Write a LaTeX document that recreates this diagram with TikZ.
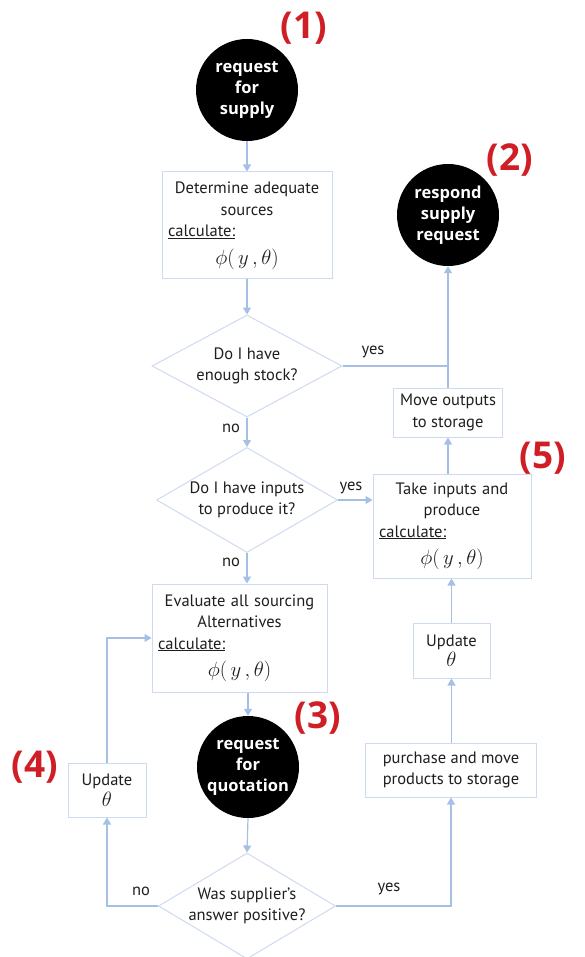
\documentclass[tikz,border=0pt]{standalone}
\usepackage{fontspec}
\setmainfont{PT Sans}
\newfontfamily\headsans{Open Sans}
\usetikzlibrary{arrows.meta,shapes.geometric}
\definecolor{flow}{RGB}{165,192,230}
\definecolor{boxline}{RGB}{205,218,240}
\definecolor{mark}{RGB}{208,30,38}
\definecolor{ink}{RGB}{30,30,30}
\tikzset{
  flowline/.style={draw=flow, line width=1.2pt},
  flowarrow/.style={flowline, -{Triangle[length=7pt,width=8pt]}},
  terminal/.style={circle, fill=black, minimum size=102pt, inner sep=0pt,
    text=white, align=center, font=\headsans\bfseries\fontsize{16.5}{21}\selectfont},
  procbox/.style={draw=boxline, line width=1pt, inner sep=0pt, align=center,
    text=ink, font=\fontsize{16.5}{21.5}\selectfont},
  decision/.style={diamond, draw=boxline, line width=1pt, inner sep=0pt},
  decisiontext/.style={align=center, text=ink, font=\fontsize{16.5}{21.5}\selectfont},
  tag/.style={text=mark, font=\headsans\bfseries\fontsize{37}{37}\selectfont},
  branch/.style={text=ink, font=\fontsize{16.5}{18}\selectfont},
}
% underlined "calculate:" heading followed by the objective
\newcommand{\calcline}{\makebox[\linewidth][l]{\underline{calculate:}}\\[6pt]{\fontsize{21}{24}\selectfont$\phi(\,y\,,\theta)$}}
\newcommand{\updtheta}{Update\\[-1pt]{\fontsize{22}{22}\selectfont$\theta$}}
\begin{document}
\begin{tikzpicture}[x=1pt,y=-1pt]
  \useasboundingbox (0,0) rectangle (584,957);
  \clip (0,0) rectangle (584,957);

  % terminals
  \node[terminal] (c1) at (247,90)  {request\\for\\supply};
  \node[terminal] (c2) at (448,215) {respond\\supply\\request};
  \node[terminal] (c3) at (248,767) {request\\for\\quotation};

  % process boxes
  \node[procbox, minimum width=170pt, minimum height=107pt, text width=158pt]
    (b1) at (247,225.5) {Determine adequate\\sources\\\calcline};
  \node[procbox, minimum width=109pt, minimum height=49pt]
    (mv) at (448,412.5) {Move outputs\\to storage};
  \node[procbox, minimum width=158pt, minimum height=104pt, text width=146pt]
    (tp) at (452,526) {Take inputs and\\produce\\\calcline};
  \node[procbox, minimum width=175pt, minimum height=108pt, text width=163pt]
    (ev) at (239.5,638) {Evaluate all sourcing\\Alternatives\\\calcline};
  \node[procbox, minimum width=77pt, minimum height=55pt]
    (ur) at (451.5,650.5) {\updtheta};
  \node[procbox, minimum width=171pt, minimum height=54pt]
    (pb) at (451,770) {purchase and move\\products to storage};
  \node[procbox, minimum width=78pt, minimum height=54pt]
    (ul) at (107,790) {\updtheta};

  % decisions
  \node[decision, minimum width=190pt, minimum height=102pt] (d1) at (247,366) {};
  \node[decisiontext] at (d1) {Do I have\\enough stock?};
  \node[decision, minimum width=181pt, minimum height=105pt] (d2) at (247,500) {};
  \node[decisiontext] at (d2) {Do I have inputs\\to produce it?};
  \node[decision, minimum width=177pt, minimum height=106pt] (d3) at (247,906) {};
  \node[decisiontext] at (d3) {Was supplier's\\answer positive?};

  % step numbers
  \node[tag] (t1) at (304,28)  {(1)};
  \node[tag] (t2) at (510,160) {(2)};
  \node[tag] (t3) at (318,718) {(3)};
  \node[tag] (t4) at (35,767)  {(4)};
  \node[tag] (t5) at (543,458) {(5)};

  % connectors
  \draw[flowarrow] (c1) -- (b1);
  \draw[flowarrow] (b1) -- (d1);
  \draw[flowline] (d1.east) -- (d1.east -| mv.north);
  \draw[flowarrow] (mv.north) -- (c2.south);
  \draw[flowarrow] (d1.south) -- (d2.north);
  \draw[flowarrow] (d2.east) -- (d2.east -| tp.west);
  \draw[flowarrow] (tp.north -| mv.south) -- (mv.south);
  \draw[flowarrow] (d2.south) -- (d2.south |- ev.north);
  \draw[flowarrow] (c3 |- ev.south) -- (c3.north);
  \draw[flowarrow] (c3.south) -- (d3.north);
  \draw[flowarrow] (d3.west) -| (ul.south);
  \draw[flowarrow] (ul.north) |- (ev.west);
  \draw[flowarrow] (d3.east) -| (pb.south);
  \draw[flowarrow] (pb.north -| ur.south) -- (ur.south);
  \draw[flowarrow] (ur.north) -- (ur.north |- tp.south);

  % branch labels
  \node[branch] at (373,352) {yes};
  \node[branch] at (231,428) {no};
  \node[branch] at (351,488) {yes};
  \node[branch] at (231,562) {no};
  \node[branch] at (141,891) {no};
  \node[branch] at (389,889) {yes};
\end{tikzpicture}
\end{document}
